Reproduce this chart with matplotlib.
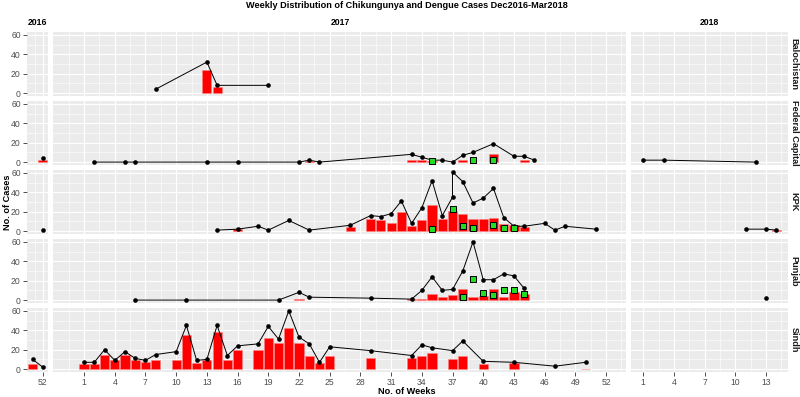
import matplotlib
matplotlib.use("Agg")
import matplotlib.pyplot as plt
from matplotlib.gridspec import GridSpec
import numpy as np

plt.rcParams['font.family'] = ['Liberation Sans', 'DejaVu Sans']

provinces = ["Balochistan", "Federal Capital", "KPK", "Punjab", "Sindh"]
years = [2016, 2017, 2018]

# (year, week, cases)
bal_line = [(2017, 8, 4), (2017, 13, 32), (2017, 14, 8), (2017, 19, 8)]
bal_bars = [(2017, 13, 24), (2017, 14, 6)]
bal_green = []

fc_line = [(2016, 52, 4), (2017, 2, 0), (2017, 5, 0), (2017, 6, 0), (2017, 13, 0), (2017, 16, 0),
           (2017, 22, 0), (2017, 23, 2), (2017, 24, 0), (2017, 33, 8), (2017, 34, 5), (2017, 35, 2),
           (2017, 36, 2), (2017, 37, 0), (2017, 38, 7), (2017, 39, 10), (2017, 41, 19), (2017, 43, 6),
           (2017, 44, 6), (2017, 45, 2), (2018, 1, 2), (2018, 3, 2), (2018, 12, 0)]
fc_bars = [(2016, 52, 2), (2017, 23, 1), (2017, 33, 2), (2017, 34, 2), (2017, 35, 1), (2017, 38, 2),
           (2017, 41, 8), (2017, 44, 2)]
fc_green = [(2017, 35, 1), (2017, 39, 2), (2017, 41, 2)]

kpk_line = [(2016, 52, 1), (2017, 14, 1), (2017, 16, 2), (2017, 18, 5), (2017, 19, 1), (2017, 21, 11),
            (2017, 23, 1), (2017, 27, 6), (2017, 29, 16), (2017, 30, 15), (2017, 31, 18), (2017, 32, 31),
            (2017, 33, 8), (2017, 34, 24), (2017, 35, 52), (2017, 36, 16), (2017, 37, 35), (2017, 37, 61),
            (2017, 38, 51), (2017, 39, 29), (2017, 40, 34), (2017, 41, 44), (2017, 42, 14), (2017, 43, 5),
            (2017, 44, 5), (2017, 46, 8), (2017, 47, 1), (2017, 48, 5), (2017, 51, 2),
            (2018, 11, 2), (2018, 13, 2), (2018, 14, 1)]
kpk_bars = [(2017, 16, 2), (2017, 27, 4), (2017, 29, 12), (2017, 30, 11), (2017, 31, 8), (2017, 32, 20),
            (2017, 33, 5), (2017, 34, 11), (2017, 35, 27), (2017, 36, 12), (2017, 37, 21), (2017, 38, 18),
            (2017, 39, 12), (2017, 40, 12), (2017, 41, 14), (2017, 42, 7), (2017, 43, 6), (2017, 44, 4),
            (2018, 14, 1)]
kpk_green = [(2017, 35, 2), (2017, 37, 23), (2017, 38, 5), (2017, 39, 3), (2017, 41, 6), (2017, 42, 3),
             (2017, 43, 3)]

pun_line = [(2017, 6, 0), (2017, 11, 0), (2017, 20, 0), (2017, 22, 8), (2017, 23, 3), (2017, 29, 2),
            (2017, 33, 1), (2017, 34, 10), (2017, 35, 24), (2017, 36, 10), (2017, 37, 11), (2017, 38, 30),
            (2017, 39, 60), (2017, 40, 21), (2017, 41, 21), (2017, 42, 27), (2017, 43, 25), (2017, 44, 12),
            (2018, 13, 2)]
pun_bars = [(2017, 22, 1), (2017, 33, 1), (2017, 34, 1), (2017, 35, 6), (2017, 36, 3), (2017, 37, 5),
            (2017, 38, 11), (2017, 39, 3), (2017, 40, 4), (2017, 41, 11), (2017, 42, 3), (2017, 43, 8),
            (2017, 44, 6)]
pun_green = [(2017, 38, 3), (2017, 39, 22), (2017, 40, 7), (2017, 41, 5), (2017, 42, 10), (2017, 43, 10),
             (2017, 44, 6)]

sin_line = [(2016, 51, 10), (2016, 52, 2), (2017, 1, 7), (2017, 2, 7), (2017, 3, 20), (2017, 4, 9),
            (2017, 5, 18), (2017, 6, 11), (2017, 7, 9), (2017, 8, 15), (2017, 10, 18), (2017, 11, 45),
            (2017, 12, 9), (2017, 13, 10), (2017, 14, 45), (2017, 15, 14), (2017, 16, 24), (2017, 18, 26),
            (2017, 19, 44), (2017, 20, 31), (2017, 21, 60), (2017, 22, 33), (2017, 23, 26), (2017, 24, 7),
            (2017, 25, 23), (2017, 29, 19), (2017, 33, 14), (2017, 34, 25), (2017, 35, 22), (2017, 37, 19),
            (2017, 38, 29), (2017, 40, 8), (2017, 43, 7), (2017, 47, 3), (2017, 50, 7)]
sin_bars = [(2016, 51, 5), (2017, 1, 5), (2017, 2, 5), (2017, 3, 15), (2017, 4, 9), (2017, 5, 15),
            (2017, 6, 9), (2017, 7, 7), (2017, 8, 9), (2017, 10, 9), (2017, 11, 35), (2017, 12, 6),
            (2017, 13, 9), (2017, 14, 38), (2017, 15, 9), (2017, 16, 20), (2017, 18, 20), (2017, 19, 32),
            (2017, 20, 27), (2017, 21, 42), (2017, 22, 27), (2017, 23, 14), (2017, 24, 6), (2017, 25, 14),
            (2017, 29, 11), (2017, 33, 11), (2017, 34, 14), (2017, 35, 17), (2017, 37, 10), (2017, 38, 14),
            (2017, 40, 5), (2017, 43, 6), (2017, 50, 0.5)]
sin_green = []

series = {
    "Balochistan": (bal_line, bal_bars, bal_green),
    "Federal Capital": (fc_line, fc_bars, fc_green),
    "KPK": (kpk_line, kpk_bars, kpk_green),
    "Punjab": (pun_line, pun_bars, pun_green),
    "Sindh": (sin_line, sin_bars, sin_green),
}

# x limits per year panel (ggplot free_x with 5% expansion)
xlims = {2016: (50.455, 52.545), 2017: (-1.995, 53.995), 2018: (-0.145, 15.145)}
xbreaks = {2016: [52], 2017: list(range(1, 53, 3)), 2018: [1, 4, 7, 10, 13]}
xminor = {2016: [51.2], 2017: list(np.arange(-0.5, 54, 3)), 2018: list(np.arange(-0.5, 15.5, 3))}

panel_bg = "#EBEBEB"
txt_grey = "#4D4D4D"


def pick(rows, yr):
    w = [r[1] for r in rows if r[0] == yr]
    v = [r[2] for r in rows if r[0] == yr]
    return w, v


fig = plt.figure(figsize=(8, 3.97), dpi=100)
widths = [xlims[y][1] - xlims[y][0] for y in years]
gs = GridSpec(5, 3, figure=fig, width_ratios=widths,
              left=27 / 800, right=788 / 800, top=1 - 32 / 397, bottom=1 - 372 / 397,
              wspace=0.02, hspace=0.078)

for i, prov in enumerate(provinces):
    line, bars, green = series[prov]
    for j, yr in enumerate(years):
        ax = fig.add_subplot(gs[i, j])
        ax.set_facecolor(panel_bg)
        ax.set_xlim(*xlims[yr])
        ax.set_ylim(-3, 63)
        for s in ax.spines.values():
            s.set_visible(False)
        # grid
        for xm in xminor[yr]:
            ax.axvline(xm, color="white", lw=0.4, zorder=0)
        for xb in xbreaks[yr]:
            ax.axvline(xb, color="white", lw=0.8, zorder=0)
        for ym in [10, 30, 50]:
            ax.axhline(ym, color="white", lw=0.4, zorder=0)
        for yb in [0, 20, 40, 60]:
            ax.axhline(yb, color="white", lw=0.8, zorder=0)

        bw, bv = pick(bars, yr)
        if bw:
            ax.bar(bw, bv, width=0.9, color="#FF0000", edgecolor="#FF8080", lw=0.4, zorder=2)
        lw_, lv_ = pick(line, yr)
        if lw_:
            ax.plot(lw_, lv_, color="black", lw=0.7, zorder=3)
            ax.scatter(lw_, lv_, s=11, color="black", zorder=4, linewidths=0)
        gw, gv = pick(green, yr)
        if gw:
            ax.scatter(gw, gv, s=21, marker="s", facecolor="#22DD22", edgecolor="black",
                       linewidths=0.7, zorder=5)

        ax.set_xticks(xbreaks[yr])
        ax.set_yticks([0, 20, 40, 60])
        ax.tick_params(length=3, width=0.6, color="#333333", labelcolor=txt_grey,
                       labelsize=6.2, pad=1.5)
        if i < 4:
            ax.tick_params(axis="x", bottom=False, labelbottom=False)
        if j > 0:
            ax.tick_params(axis="y", left=False, labelleft=False)
        if i == 0:
            ax.set_title(str(yr), fontsize=6.2, fontweight="bold", pad=5)
        if j == 2:
            ax.text(1.04, 0.5, prov, transform=ax.transAxes, rotation=-90, ha="center",
                    va="center", fontsize=6.6, fontweight="bold", color="#1A1A1A")

fig.text(407 / 800, 1 - 6 / 397, "Weekly Distribution of Chikungunya and Dengue Cases Dec2016-Mar2018",
         ha="center", va="center", fontsize=6.6, fontweight="bold")
fig.text(407 / 800, 1 - 391 / 397, "No. of Weeks", ha="center", va="center", fontsize=6.6,
         fontweight="bold")
fig.text(7 / 800, 1 - 202 / 397, "No. of Cases", ha="center", va="center", rotation=90,
         fontsize=6.6, fontweight="bold")

fig.savefig("out.png", dpi=100)
